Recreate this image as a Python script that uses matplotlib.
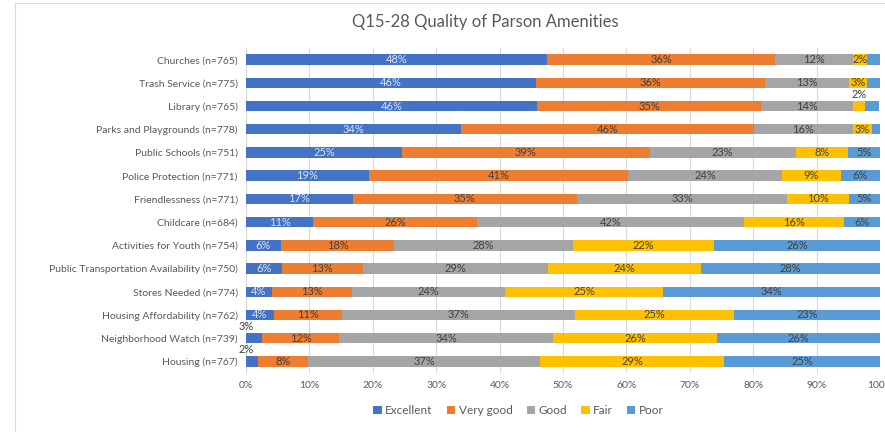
import numpy as np
import matplotlib.pyplot as plt
from matplotlib.patches import Rectangle

plt.rcParams['font.family'] = ['Lato', 'DejaVu Sans']

# Categorias (de arriba hacia abajo)
categorias = ["Churches (n=765)", "Trash Service (n=775)", "Library (n=765)",
              "Parks and Playgrounds (n=778)", "Public Schools (n=751)",
              "Police Protection (n=771)", "Friendlessness (n=771)",
              "Childcare (n=684)", "Activities for Youth (n=754)",
              "Public Transportation Availability (n=750)", "Stores Needed (n=774)",
              "Housing Affordability (n=762)", "Neighborhood Watch (n=739)",
              "Housing (n=767)"]

excellent = [47.5, 45.7, 45.9, 33.9, 24.6, 19.4, 16.8, 10.6, 5.5, 5.7, 4.1, 4.4, 2.6, 1.9]
very_good = [36.0, 36.2, 35.4, 46.2, 39.1, 40.8, 35.4, 25.8, 17.9, 12.7, 12.6, 10.8, 12.1, 7.9]
good = [12.3, 13.2, 14.4, 15.6, 23.0, 24.4, 33.2, 42.1, 28.1, 29.3, 24.2, 36.7, 33.7, 36.6]
fair = [2.2, 2.8, 1.9, 3.0, 8.2, 9.2, 9.7, 15.8, 22.3, 24.0, 24.9, 25.1, 25.9, 29.0]
poor = [2.0, 2.1, 2.2, 1.3, 5.1, 6.2, 4.9, 5.7, 26.2, 28.3, 34.2, 23.0, 25.7, 24.6]

series = ["Excellent", "Very good", "Good", "Fair", "Poor"]
valores = [excellent, very_good, good, fair, poor]
colores = ["#4472C4", "#ED7D31", "#A5A5A5", "#FFC000", "#5B9BD5"]
color_texto = ["#D9E2F3", "#404040", "#404040", "#404040", "#404040"]

# etiquetas que van encima de la barra: (serie, fila)
fuera = [(3, 2), (0, 12), (0, 13)]
# segmentos sin etiqueta
sin_etiqueta = [(4, 0), (4, 1), (4, 2), (4, 3)]

fig = plt.figure(figsize=(8.85, 4.32), dpi=100)
# marco del grafico (recortado a la derecha y abajo)
fig.patches.append(Rectangle((15 / 885, -0.1), 2, 1.1 - 3 / 432, transform=fig.transFigure,
                             fill=False, edgecolor="#D9D9D9", linewidth=0.8))
ax = fig.add_axes([246 / 885, 59 / 432, 634 / 885, 325 / 432])

y = np.arange(len(categorias))
izquierda = np.zeros(len(categorias))
for k, (nombre, vals, col, ctex) in enumerate(zip(series, valores, colores, color_texto)):
    vals = np.array(vals)
    ax.barh(y, vals, left=izquierda, height=0.45, color=col, label=nombre, zorder=3)
    for i, v in enumerate(vals):
        if (k, i) in sin_etiqueta:
            continue
        if (k, i) in fuera:
            x_txt = izquierda[i] + v / 2 if k > 0 else 0
            ax.text(x_txt, y[i] - 0.5, f"{v:.0f}%", ha="center", va="center",
                    fontsize=8, color="#404040")
        else:
            ax.text(izquierda[i] + v / 2, y[i], f"{v:.0f}%", ha="center", va="center",
                    fontsize=8, color=ctex, zorder=4)
    izquierda += vals

ax.set_xlim(0, 100)
ax.set_ylim(len(categorias) - 0.5, -0.5)
ax.set_yticks(y)
ax.set_yticklabels(categorias, fontsize=7.5, color="#595959")
ax.set_xticks(np.arange(0, 101, 10))
ax.set_xticklabels([f"{t}%" for t in range(0, 101, 10)], fontsize=7.5, color="#595959")
ax.tick_params(length=0, pad=6)
ax.grid(axis="x", color="#D9D9D9", linewidth=0.8, zorder=0)
for s in ["top", "right", "bottom"]:
    ax.spines[s].set_visible(False)
ax.spines["left"].set_color("#D9D9D9")

fig.text(485 / 885, 1 - 22 / 432, "Q15-28 Quality of Parson Amenities", ha="center", va="center",
         fontsize=12, color="#595959")
ax.legend(loc="center", bbox_to_anchor=(0.43, -0.115), ncol=5, frameon=False, fontsize=8.5,
          handlelength=0.7, handleheight=0.7, handletextpad=0.3, columnspacing=1.2,
          labelcolor="#595959")

fig.savefig("out.png", dpi=100)
